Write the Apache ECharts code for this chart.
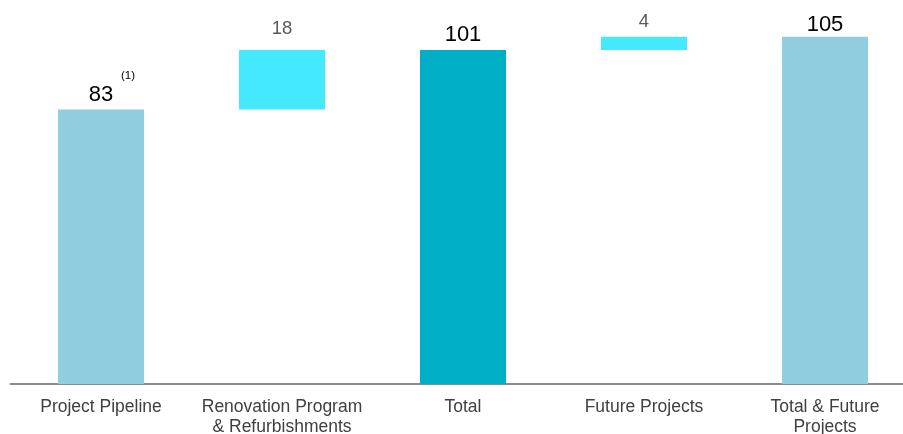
<!DOCTYPE html>
<html>
<head>
<meta charset="utf-8">
<script src="https://cdn.jsdelivr.net/npm/echarts@6/dist/echarts.min.js"></script>
<style>
  html, body { margin: 0; padding: 0; background: #fff; }
  #chart { width: 903px; height: 434px; }
</style>
</head>
<body>
<div id="chart"></div>
<script>
// Waterfall: pipeline + renovation = total, total + future = total & future
const categories = ['Project Pipeline', 'Renovation Program\n& Refurbishments', 'Total', 'Future Projects', 'Total & Future\nProjects'];
const values = [83, 18, 101, 4, 105];
const isStep = [false, true, false, true, false];
const barColors = ['#8fcddf', '#45e9ff', '#00aec6', '#45e9ff', '#8fcddf'];
const footnotes = ['(1)', '', '', '', ''];

// Floating steps sit on top of the preceding total
const bases = values.map((v, i) => (isStep[i] ? values[i - 1] : 0));

const labelDistance = [3, 11.5, 4.5, 5.5, 1];
const FONT = 'Liberation Sans, Arial, sans-serif';

const chart = echarts.init(document.getElementById('chart'), null, { renderer: 'canvas' });

chart.setOption({
  animation: false,
  grid: { left: 10.5, width: 905, top: 20.2, height: 363.8, outerBoundsMode: 'none', containLabel: false },
  xAxis: {
    type: 'category',
    data: categories,
    axisLine: { lineStyle: { color: '#8c8c8c', width: 2 } },
    axisTick: { show: false },
    axisLabel: {
      color: '#404040',
      fontFamily: FONT,
      fontSize: 17.5,
      lineHeight: 20,
      margin: 13,
      interval: 0
    }
  },
  yAxis: {
    type: 'value',
    min: 0,
    max: 110,
    show: false,
    splitLine: { show: false }
  },
  series: [
    {
      type: 'bar',
      stack: 'wf',
      barWidth: 86,
      itemStyle: { color: 'transparent' },
      emphasis: { disabled: true },
      data: bases
    },
    {
      type: 'bar',
      stack: 'wf',
      barWidth: 86,
      data: values.map((v, i) => ({
        value: v,
        itemStyle: { color: barColors[i] },
        label: {
          show: true,
          position: 'top',
          distance: labelDistance[i],
          fontFamily: FONT,
          color: isStep[i] ? '#595959' : '#000000',
          fontSize: isStep[i] ? 18.5 : 22,
          // a value with a footnote gets a small superscript line above it
          formatter: footnotes[i] ? '{s|' + footnotes[i] + '}\n{v|' + v + '}' : String(v),
          rich: {
            v: { fontSize: 22, color: '#000', fontFamily: FONT, lineHeight: 24 },
            s: { fontSize: 11.5, color: '#000', fontFamily: FONT, lineHeight: 13, width: 68, align: 'right' }
          }
        }
      }))
    }
  ]
});
</script>
</body>
</html>
